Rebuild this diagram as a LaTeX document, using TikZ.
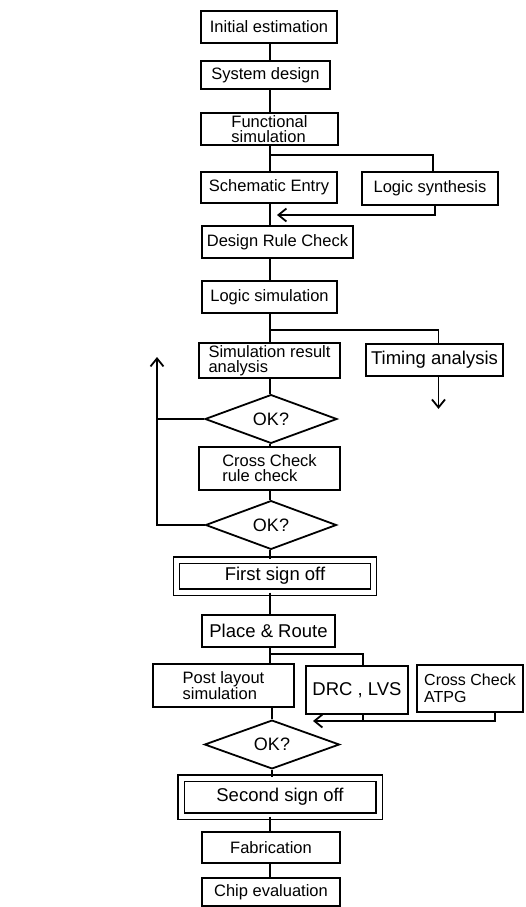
\documentclass[tikz,border=0pt]{standalone}
\usepackage{fontspec}
\setmainfont{Liberation Sans}
\usetikzlibrary{shapes.geometric,arrows.meta}

\begin{document}
\begin{tikzpicture}[x=1pt,y=-1pt,line width=1.8pt,
    box/.style={draw,rectangle,inner sep=1pt,align=left,font=\fontsize{16.5}{15}\selectfont},
    bigbox/.style={box,font=\fontsize{18.5}{16}\selectfont},
    signbox/.style={draw,double,double distance=5pt,line width=1.4pt,inner sep=1pt,font=\fontsize{18.5}{18}\selectfont},
    decision/.style={draw,diamond,inner sep=0pt,font=\fontsize{18}{18}\selectfont},
    barb/.style={-{Straight Barb[length=8pt,width=13pt]}}]

    % page frame
    \useasboundingbox (0,0) rectangle (525,907);

    % main line of the flow
    \coordinate (trunk) at (270,0);

    % draw boxes
    \node[box,minimum width=136pt,minimum height=32pt] (init) at (269,27) {Initial estimation};
    \node[box,minimum width=129pt,minimum height=28pt] (sys) at (265.5,75) {System design};
    \node[box,minimum width=137pt,minimum height=32pt] (func) at (269.5,129) {Functional\\simulation};
    \node[box,minimum width=136pt,minimum height=31pt] (schem) at (269,187.5) {Schematic Entry};
    \node[box,minimum width=136pt,minimum height=33pt] (synth) at (430,188.5) {Logic synthesis};
    \node[box,minimum width=151pt,minimum height=32pt] (drc) at (277.5,242) {Design Rule Check};
    \node[box,minimum width=135pt,minimum height=32pt] (logsim) at (269.5,297) {Logic simulation};
    \node[box,minimum width=141pt,minimum height=35pt] (simres) at (269.5,360.5) {Simulation result\\analysis};
    \node[bigbox,minimum width=137pt,minimum height=32pt] (timing) at (434.5,360) {Timing analysis};
    \node[decision,minimum width=132pt,minimum height=36pt] (ok1) at (271,419) {OK?};
    \node[box,minimum width=141pt,minimum height=43pt] (cross) at (269.5,468.5) {Cross Check\\rule check};
    \node[decision,minimum width=131pt,minimum height=38pt] (ok2) at (271,525) {OK?};
    \node[signbox,minimum width=197pt,minimum height=32pt] (first) at (275,576) {First sign off};
    \node[bigbox,minimum width=133pt,minimum height=32pt] (place) at (268.5,631) {Place \& Route};
    \node[box,minimum width=141pt,minimum height=43pt] (post) at (223.5,685.5) {Post layout\\simulation};
    \node[bigbox,minimum width=102pt,minimum height=48pt] (lvs) at (357,690) {DRC , LVS};
    \node[box,font=\fontsize{16}{17}\selectfont,minimum width=106pt,minimum height=47pt] (atpg) at (470,688.5) {Cross Check\\ATPG};
    \node[decision,minimum width=135pt,minimum height=35pt] (ok3) at (272,744.5) {OK?};
    \node[signbox,minimum width=198pt,minimum height=38pt] (second) at (280,797) {Second sign off};
    \node[box,minimum width=138pt,minimum height=31pt] (fab) at (271,847.5) {Fabrication};
    \node[box,minimum width=138pt,minimum height=28pt] (chip) at (271,892) {Chip evaluation};

    % draw connectors down the main line
    \draw (init.south -| trunk) -- (sys.north -| trunk);
    \draw (sys.south -| trunk) -- (func.north -| trunk);
    \draw (func.south -| trunk) -- (schem.north -| trunk);
    \draw (schem.south -| trunk) -- (drc.north -| trunk);
    \draw (drc.south -| trunk) -- (logsim.north -| trunk);
    \draw (logsim.south -| trunk) -- (simres.north -| trunk);
    \draw (simres.south -| trunk) -- (ok1.north -| trunk);
    \draw (ok1.south -| trunk) -- (cross.north -| trunk);
    \draw (cross.south -| trunk) -- (ok2.north -| trunk);
    \draw (ok2.south -| trunk) -- (first.north -| trunk);
    \draw (first.south -| trunk) -- (place.north -| trunk);
    \draw (place.south -| trunk) -- (post.north -| trunk);
    \draw (post.south -| ok3.north) -- (ok3.north);
    \draw (ok3.south) -- (second.north -| ok3.south);
    \draw (second.south -| trunk) -- (fab.north -| trunk);
    \draw (fab.south -| trunk) -- (chip.north -| trunk);

    % draw side branches
    \coordinate (fj) at (270,155);
    \coordinate (sj) at (277,215);
    \coordinate (lj) at (270,330);
    \coordinate (pj) at (270,654);
    \coordinate (rj) at (313,721);
    \coordinate (up) at (157,357);
    \path (timing.south) ++(4,32) coordinate (tout);

    \draw (fj) -| ([xshift=3pt]synth.north);
    \draw[barb] ([xshift=5pt]synth.south) |- (sj);
    \draw (lj) -| ([xshift=4pt]timing.north);
    \draw[barb] ([xshift=4pt]timing.south) -- (tout);
    \draw (ok1.west) -- (ok1.west -| up);
    \draw[barb] (ok2.west) -| (up);
    \draw (pj) -| ([xshift=6pt]lvs.north);
    \draw[barb] ([xshift=25pt]atpg.south) |- (rj);
    \draw ([xshift=6pt]lvs.south) -- ([xshift=6pt]lvs.south |- rj);

\end{tikzpicture}
\end{document}
